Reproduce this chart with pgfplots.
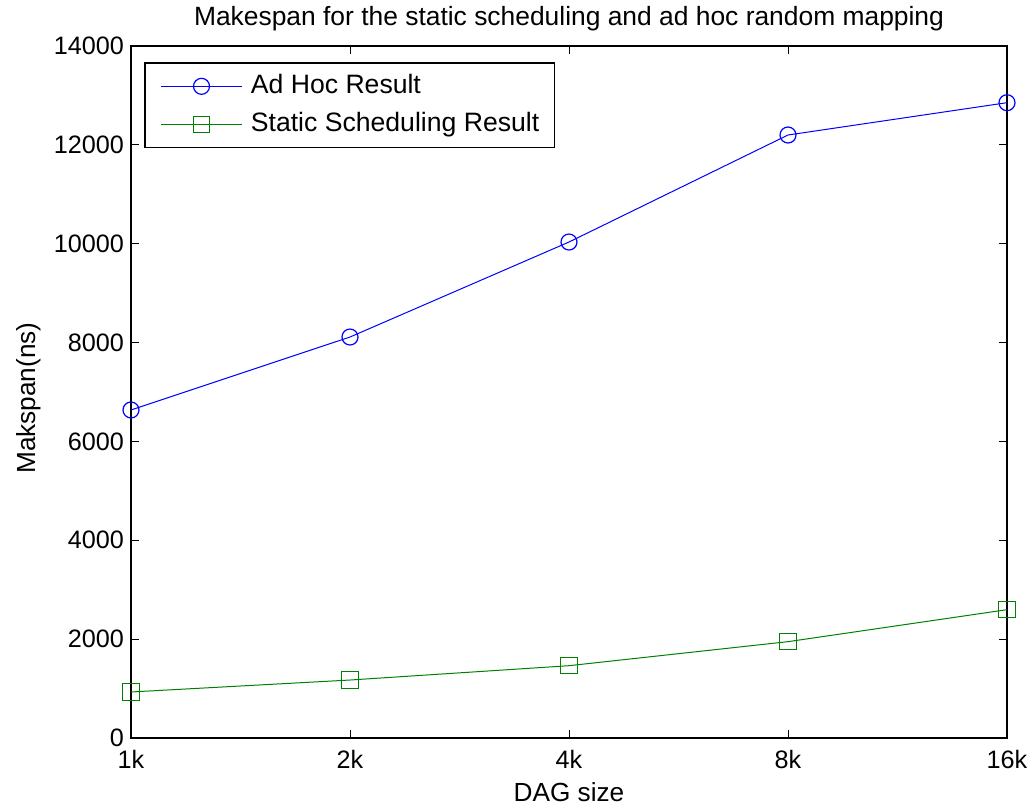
\documentclass[border=0pt]{standalone}
\usepackage{pgfplots}
\pgfplotsset{compat=1.18}
\usepackage{fontspec}
\setmainfont{Liberation Sans}
\definecolor{mblue}{RGB}{0,0,255}
\definecolor{mgreen}{RGB}{0,128,0}
\begin{document}
\fontsize{13}{15}\selectfont
\begin{tikzpicture}
\begin{axis}[
  scale only axis,
  width=438pt, height=346pt,
  xmin=0, xmax=4, ymin=0, ymax=14000,
  xtick={0,1,2,3,4},
  xticklabels={1k,2k,4k,8k,16k},
  ytick={0,2000,4000,6000,8000,10000,12000,14000},
  /pgf/number format/1000 sep={},
  /pgf/number format/assume math mode=true,
  scaled y ticks=false,
  tick align=inside,
  major tick length=4.2pt,
  tick style={black, line width=0.5pt},
  axis line style={line width=0.6pt},
  every tick label/.append style={font=\fontsize{12.6}{14}\selectfont},
  yticklabel style={xshift=1pt},
  xticklabel style={yshift=-1.5pt},
  xlabel={DAG size},
  ylabel={Makspan(ns)},
  label style={font=\fontsize{13.1}{15}\selectfont},
  xlabel style={at={(axis description cs:0.5,-0.078)}, anchor=center},
  ylabel style={at={(axis description cs:-0.117,0.4913)}, anchor=center},
  every axis title shift=0pt,
  title={Makespan for the static scheduling and ad hoc random mapping},
  title style={font=\fontsize{13.2}{15}\selectfont, at={(axis description cs:0.5,1.0289)}, anchor=base, inner sep=0pt},
  legend style={at={(0.0152,0.9764)}, anchor=north west, draw=black, line width=0.6pt,
    font=\fontsize{13.3}{15}\selectfont, row sep=6.8pt, column sep=4.2pt,
    inner xsep=7.8pt, inner ysep=5.6pt,
    nodes={inner sep=0pt, text height=9.5pt, text depth=2.7pt}},
  legend cell align=left,
  legend image code/.code={\draw[#1] (0pt,0pt) -- (40.5pt,0pt); \draw[#1] plot coordinates {(20.25pt,0pt)};},
]
\addplot[mblue, line width=0.5pt, mark=o, mark size=4pt, mark options={solid, line width=0.6pt}]
  coordinates {(0,6636) (1,8112) (2,10034) (3,12199) (4,12853)};
\addlegendentry{Ad Hoc Result}
\addplot[mgreen, line width=0.5pt, mark=square, mark size=4.1pt, mark options={solid, line width=0.6pt}]
  coordinates {(0,931) (1,1173) (2,1463) (3,1949) (4,2596)};
\addlegendentry{Static Scheduling Result}
\end{axis}
\pgfresetboundingbox
\path[use as bounding box] ([xshift=-65.5pt,yshift=-34pt]current axis.south west) rectangle ([xshift=13.5pt,yshift=23pt]current axis.north east);
\end{tikzpicture}
\end{document}
